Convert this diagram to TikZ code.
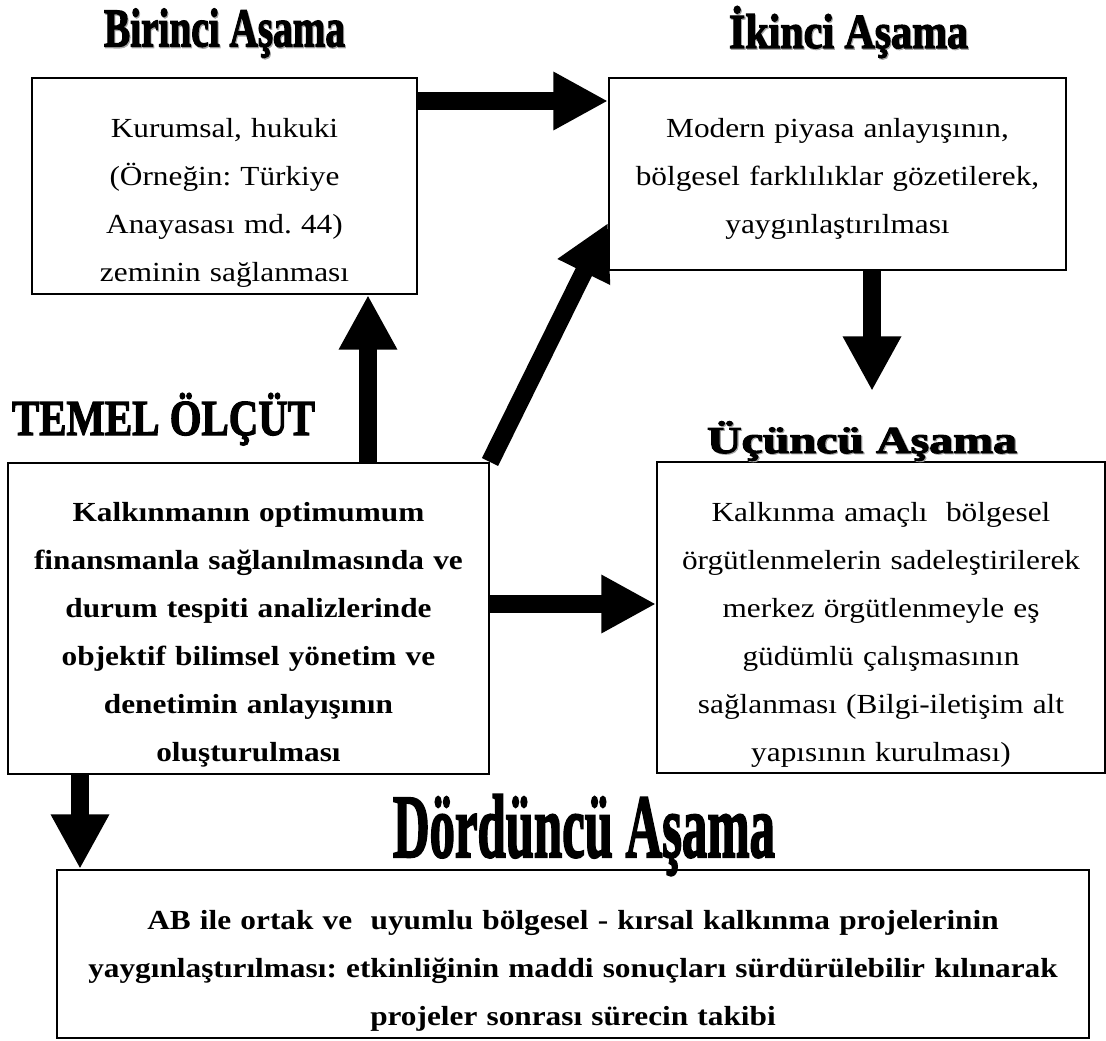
\documentclass[tikz,border=0pt]{standalone}
\usepackage{fontspec}
\setmainfont{Liberation Serif}[FakeStretch=1.134]
\newfontfamily\headfont{Liberation Serif}[BoldFeatures={FakeBold=2.5}]
\usetikzlibrary{positioning,arrows.meta,calc,backgrounds}
\newcommand{\headfit}[3]{\resizebox{#1}{#2}{\headfont\bfseries\smash{#3}\vphantom{E}}}
\newcommand{\headshade}[3]{\resizebox{#1}{#2}{\headfont\bfseries\smash{\rlap{\kern0.025em\raisebox{-0.025em}{\color{black!35}#3}}#3}\vphantom{E}}}
\newcommand{\topgap}[1]{\rule{0pt}{#1}}
\frenchspacing

\begin{document}
\begin{tikzpicture}[
  x=0.75pt, y=-0.75pt,
  every node/.style={inner sep=0pt},
  stagebox/.style={draw,line width=1.5pt,fill=white,align=center,
    font=\fontsize{20.7pt}{36pt}\selectfont},
  heading/.style={anchor=base,inner sep=0pt},
  blockarrow/.style={line width=13.5pt,-{Triangle[length=41pt,width=41pt]}}
]
  \useasboundingbox (0,0) rectangle (1106,1041);

  % stage boxes
  \node[stagebox,minimum width=288.75pt,minimum height=162pt,text width=280pt] (b1) at (224.5,186)
    {\topgap{39pt}Kurumsal, hukuki\\(Örneğin: Türkiye\\Anayasası md. 44)\\zeminin sağlanması};
  \node[stagebox,minimum width=342.75pt,minimum height=144pt,text width=334pt] (b2) at (837.5,174)
    {\topgap{22pt}Modern piyasa anlayışının,\\bölgesel farklılıklar gözetilerek,\\yaygınlaştırılması};
  \node[stagebox,font=\fontsize{20.7pt}{36pt}\selectfont\bfseries,
    minimum width=360.75pt,minimum height=233.25pt,text width=352pt] (tb) at (248.5,618.5)
    {\topgap{38.5pt}Kalkınmanın optimumum\\finansmanla sağlanılmasında ve\\durum tespiti analizlerinde\\objektif bilimsel yönetim ve\\denetimin anlayışının\\oluşturulması};
  \node[stagebox,minimum width=336pt,minimum height=233.25pt,text width=328pt] (b3) at (881,617.5)
    {\topgap{40.5pt}Kalkınma amaçlı\ \ bölgesel\\örgütlenmelerin sadeleştirilerek\\merkez örgütlenmeyle eş\\güdümlü çalışmasının\\sağlanması (Bilgi-iletişim alt\\yapısının kurulması)};
  \node[stagebox,font=\fontsize{20.7pt}{36pt}\selectfont\bfseries,
    minimum width=774pt,minimum height=126pt,text width=766pt] (b4) at (573,954)
    {\topgap{39pt}AB ile ortak ve\ \ uyumlu bölgesel - kırsal kalkınma projelerinin\\yaygınlaştırılması: etkinliğinin maddi sonuçları sürdürülebilir kılınarak\\projeler sonrası sürecin takibi};

  % headings
  \node[heading] (h1) at (224.5,46.4) {\headshade{180.75pt}{26.8pt}{Birinci Aşama}};
  \node[heading] (h2) at (848.5,48) {\headshade{179.25pt}{24pt}{İkinci Aşama}};
  \node[heading] (h0) at (163.5,435) {\headfit{227.25pt}{24.75pt}{TEMEL ÖLÇÜT}};
  \node[heading] (h3) at (862,453) {\headshade{232.5pt}{18.75pt}{Üçüncü Aşama}};
  \node[heading] (h4) at (584,857) {\headfit{286.5pt}{44.25pt}{Dördüncü Aşama}};

  % arrows
  \coordinate (s3) at ($(b2.south west)+(264,120)$);
  \begin{scope}[on background layer]
    \draw[blockarrow] ($(b1.north east)+(0,24)$) -- ($(b1.north east -| b2.west)+(0,24)$);
    \draw[blockarrow] ($(tb.north west)+(361,0)$) -- ($(b1.south west)+(337,0)$);
    \draw[blockarrow] (tb.north east) -- ($(b2.south west)+(0,-48)$);
    \draw[blockarrow] ($(b2.south west)+(264,0)$) -- (s3);
    \draw[blockarrow] ($(tb.north east)+(0,142)$) -- ($(b3.north west)+(0,143)$);
    \draw[blockarrow] ($(tb.south west)+(73,0)$) -- ($(b4.north west)+(24,0)$);
  \end{scope}
\end{tikzpicture}
\end{document}
